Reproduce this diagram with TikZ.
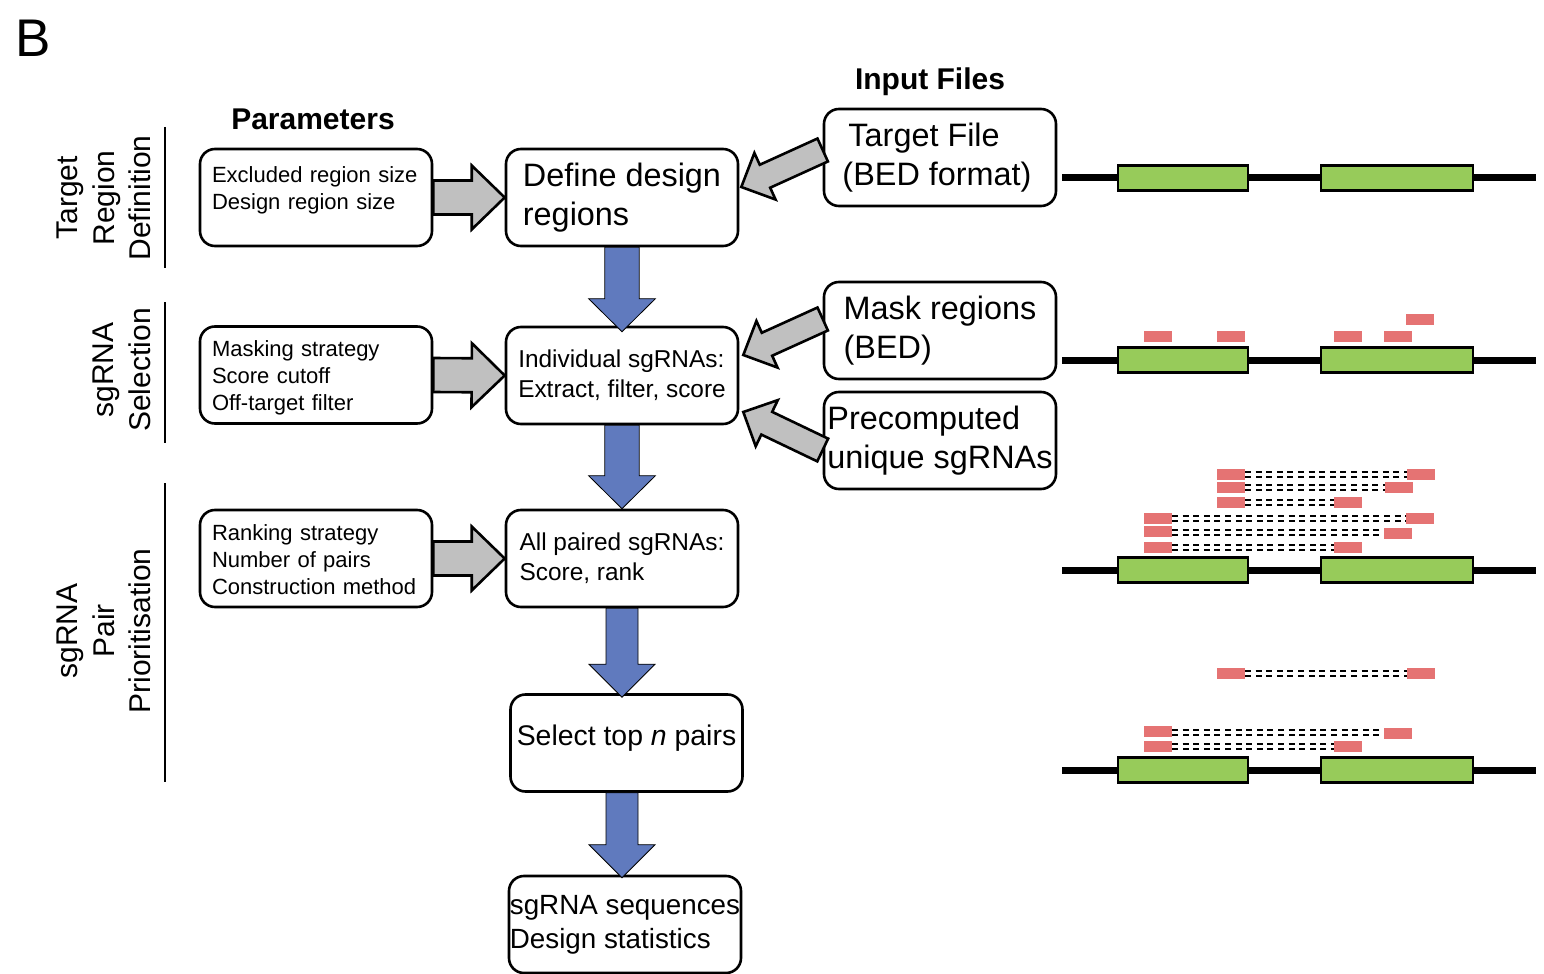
\documentclass[tikz,border=0pt]{standalone}
\usepackage{fontspec}
\setmainfont{Liberation Sans}
\usetikzlibrary{calc}
\definecolor{arrowgray}{RGB}{192, 192, 192}
\definecolor{flowblue}{RGB}{96, 122, 190}
\definecolor{exongreen}{RGB}{151, 203, 90}
\definecolor{guidered}{RGB}{229, 115, 115}
\tikzset{box/.style = {draw, line width=1.3pt, rounded corners=7.5pt,
                       minimum width=116pt, minimum height=48.5pt,
                       align=left, inner sep=0pt},
         parbox/.style = {box, text width=104pt,
                          font=\fontsize{11}{13.5}\selectfont},
         midtext/.style = {font=\fontsize{12.2}{15}\selectfont},
         bigtext/.style = {font=\fontsize{16.2}{19.5}\selectfont},
         header/.style = {font=\fontsize{15}{18}\selectfont\bfseries},
         side/.style = {rotate=90, align=center, font=\fontsize{15}{18.25}\selectfont},
         grayarrow/.style = {fill=arrowgray, draw=black, line width=1.3pt},
         bluearrow/.style = {fill=flowblue},
         exon/.style = {fill=exongreen, draw=black, line width=1.4pt},
         pairline/.style = {dash pattern=on 3pt off 2.3pt, line width=1.2pt,
                            double=white, double distance=1.3pt}}
\newcommand{\fatarrow}[6]{%
  \coordinate (fa-base) at ($(#3)!#6!(#2)$);
  \draw [#1] ($(#2)!#4!90:(#3)$) -- ($(fa-base)!#4!90:(#3)$)
    -- ($(fa-base)!#5!90:(#3)$) -- (#3)
    -- ($(fa-base)!#5!-90:(#3)$) -- ($(fa-base)!#4!-90:(#3)$)
    -- ($(#2)!#4!-90:(#3)$) -- cycle;}
\newcommand{\guidepair}[4]{%
  \draw [pairline] (#1+28, {(#2+#4)/2+5.5}) -- (#3, {(#2+#4)/2+5.5});
  \fill [guidered] (#1, #2) rectangle ++(28, 11);
  \fill [guidered] (#3, #4) rectangle ++(28, 11);}

\begin{document}
\begin{tikzpicture}[x=0.5pt, y=-0.5pt]
    \useasboundingbox (0, 0) rectangle (1544, 974);

    \node [font=\fontsize{26.5}{30}\selectfont] (panel) at (33, 38) {B};
    \node [header] (parhead) at (313, 119) {Parameters};
    \node [header] (inhead) at (930, 82) {Input Files};

    \node [side] (sec1) at (104, 198) {Target\\Region\\Definition};
    \node [side] (sec2) at (122, 370) {sgRNA\\Selection};
    \node [side] (sec3) at (104, 631) {sgRNA\\Pair\\Prioritisation};
    \draw [line width=1pt] (165, 127) -- (165, 268);
    \draw [line width=1pt] (165, 302) -- (165, 443);
    \draw [line width=1pt] (165, 483) -- (165, 782);

    \node [parbox, text depth=23pt] (p1) at (316, 197.5) {Excluded region size\\Design region size};
    \node [parbox, text depth=26.3pt] (p2) at (316, 375) {Masking strategy\\Score cutoff\\Off-target filter};
    \node [parbox, text depth=25.5pt] (p3) at (316, 558.5) {Ranking strategy\\Number of pairs\\Construction method};

    \node [box, bigtext] (c1) at (622, 197.5) {Define design\\regions};
    \node [box, midtext] (c2) at (622, 375.5) {Individual sgRNAs:\\Extract, filter, score};
    \node [box, midtext] (c3) at (622, 558.5) {All paired sgRNAs:\\Score, rank};
    \node [box, font=\fontsize{14.2}{17}\selectfont] (c4) at (626.5, 743) {Select top \textit{n} pairs\\[-9pt]};
    \node [box, font=\fontsize{13.9}{17}\selectfont] (c5) at (625, 924.5) {sgRNA sequences\\Design statistics};

    \node [box, bigtext] (i1) at (940, 157.5) {\hspace*{3pt}Target File\\(BED format)\hspace*{3pt}};
    \node [box, bigtext] (i2) at (940, 330.5) {Mask regions\\(BED)\hspace*{4pt}};
    \node [box, bigtext] (i3) at (940, 440.5) {Precomputed\\unique sgRNAs};

    \fatarrow{grayarrow}{p1.east}{c1.west}{8.5pt}{16pt}{16.5pt}
    \fatarrow{grayarrow}{p2.east}{c2.west}{8.5pt}{16pt}{16.5pt}
    \fatarrow{grayarrow}{p3.east}{c3.west}{8.5pt}{16pt}{16.5pt}

    \coordinate (i1out) at ($(i1.west)+(0, -7.5)$);
    \coordinate (c1in) at ($(c1.east)+(2, -10.5)$);
    \coordinate (i2out) at ($(i2.west)+(0, -11.5)$);
    \coordinate (c2in) at ($(c2.east)+(4, -20.5)$);
    \coordinate (i3out) at ($(i3.west)+(0, 9.5)$);
    \coordinate (c2in2) at ($(c2.east)+(4, 36.5)$);
    \fatarrow{grayarrow}{i1out}{c1in}{6.3pt}{12.8pt}{13pt}
    \fatarrow{grayarrow}{i2out}{c2in}{6.3pt}{12.8pt}{13pt}
    \fatarrow{grayarrow}{i3out}{c2in2}{6.3pt}{12.8pt}{13pt}

    \coordinate (c2tip) at ($(c2.north)+(0, 6)$);
    \coordinate (c4top) at ($(c3.south |- c4.north)+(0, 4)$);
    \coordinate (c4bot) at (c3.south |- c4.south);
    \coordinate (c5top) at ($(c3.south |- c5.north)+(0, 3)$);
    \fatarrow{bluearrow}{c1.south}{c2tip}{8.6pt}{16.7pt}{16.5pt}
    \fatarrow{bluearrow}{c2.south}{c3.north}{8.6pt}{16.7pt}{16.5pt}
    \fatarrow{bluearrow}{c3.south}{c4top}{8pt}{16.5pt}{16.5pt}
    \fatarrow{bluearrow}{c4bot}{c5top}{8pt}{16.5pt}{16.5pt}

    \foreach \ty in {178, 360, 570, 770} {
      \draw [line width=3.5pt] (1062, \ty) -- (1536, \ty);
      \draw [exon] (1118, \ty-12.5) rectangle (1248, \ty+12.5);
      \draw [exon] (1321, \ty-12.5) rectangle (1473, \ty+12.5);
    }

    \fill [guidered] (1144, 331) rectangle ++(28, 11);
    \fill [guidered] (1217, 331) rectangle ++(28, 11);
    \fill [guidered] (1334, 331) rectangle ++(28, 11);
    \fill [guidered] (1384, 331) rectangle ++(28, 11);
    \fill [guidered] (1406, 314) rectangle ++(28, 11);

    \guidepair{1217}{469}{1407}{469}
    \guidepair{1217}{482}{1385}{482}
    \guidepair{1217}{497}{1334}{497}
    \guidepair{1144}{513}{1406}{513}
    \guidepair{1144}{526}{1384}{528}
    \guidepair{1144}{542}{1334}{542}

    \guidepair{1217}{668}{1407}{668}
    \guidepair{1144}{726}{1384}{728}
    \guidepair{1144}{741}{1334}{741}
  \end{tikzpicture}
\end{document}
